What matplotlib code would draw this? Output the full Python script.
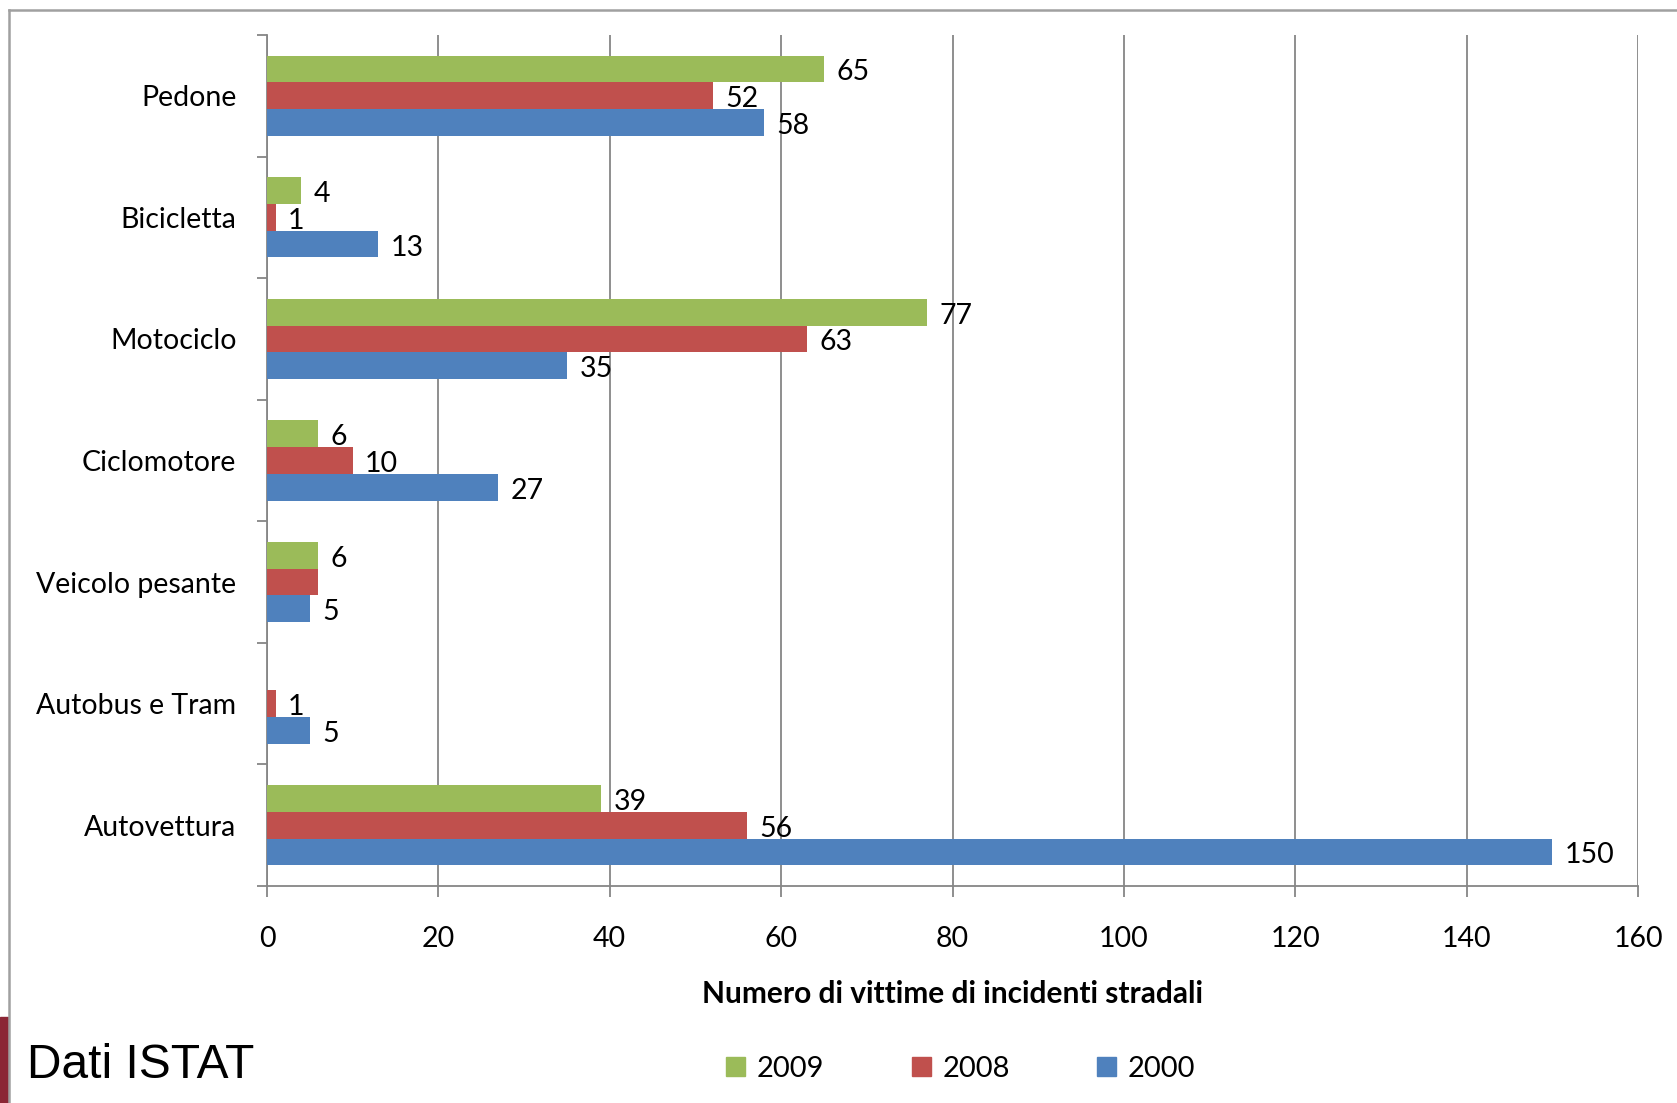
import numpy as np
import matplotlib
matplotlib.use("Agg")
import matplotlib.pyplot as plt
from matplotlib.lines import Line2D
from matplotlib.patches import Rectangle

categories = ["Autovettura", "Autobus e Tram", "Veicolo pesante", "Ciclomotore",
              "Motociclo", "Bicicletta", "Pedone"]
years = ["2009", "2008", "2000"]
v2009 = [39, np.nan, 6, 6, 77, 4, 65]
v2008 = [56, 1, 6, 10, 63, 1, 52]
v2000 = [150, 5, 5, 27, 35, 13, 58]
# the source chart hides the 2008 label of "Veicolo pesante" (overlap)
hidden_2008 = ["Veicolo pesante"]
x_ticks = [0, 20, 40, 60, 80, 100, 120, 140, 160]

colors = {"2009": "#9BBB59", "2008": "#C0504D", "2000": "#4F81BD"}
plt.rcParams["font.family"] = ["Lato", "DejaVu Sans"]

fig = plt.figure(figsize=(16.77, 11.03), dpi=100)
ax = fig.add_axes([0.1592, 0.1967, 0.8176, 0.7716])

y = np.arange(len(categories))
h = 0.22
series = [("2000", v2000, -h), ("2008", v2008, 0), ("2009", v2009, h)]
for name, vals, off in series:
    vals = np.array(vals, dtype=float)
    bars = ax.barh(y + off, np.nan_to_num(vals), height=h, color=colors[name],
                   edgecolor="none", zorder=3)
    labels = []
    for cat, v in zip(categories, vals):
        if np.isnan(v) or (name == "2008" and cat in hidden_2008):
            labels.append("")
        else:
            labels.append(f"{int(v)}")
    anns = ax.bar_label(bars, labels=labels, padding=9, fontsize=20.5, color="black")
    for a in anns:
        a.xyann = (9, -2.5)

ax.set_xlim(0, 160)
ax.set_ylim(-0.5, len(categories) - 0.5)
ax.set_xticks(x_ticks)
ax.set_xticklabels([str(t) for t in x_ticks], fontsize=20.5)
ax.set_yticks(y)
ax.set_yticklabels(categories, fontsize=20.5)
ax.set_yticks(np.arange(-0.5, len(categories)), minor=True)
ax.tick_params(axis="y", which="major", length=0, pad=22)
ax.tick_params(axis="y", which="minor", length=7, width=1.3, color="#868686", direction="out")
ax.tick_params(axis="x", length=8, width=1.3, color="#868686", pad=21)
ax.xaxis.grid(True, color="#868686", linewidth=1.3, zorder=0)
ax.set_axisbelow(True)
for s in ["top", "right"]:
    ax.spines[s].set_visible(False)
for s in ["left", "bottom"]:
    ax.spines[s].set_color("#868686")
    ax.spines[s].set_linewidth(1.3)
ax.set_xlabel("Numero di vittime di incidenti stradali", fontsize=21.5,
              fontweight="bold", labelpad=20)

handles = [Rectangle((0, 0), 1, 1, color=colors[n]) for n in years]
fig.legend(handles, years, loc="center", bbox_to_anchor=(0.573, 0.031), ncol=3,
           frameon=False, fontsize=21, handlelength=0.65, handleheight=0.65,
           handletextpad=0.4, columnspacing=3.0)

# slide frame and decorations
fig.add_artist(Line2D([0.0054, 1.0], [0.9909, 0.9909], color="#a0a0a0", linewidth=1.8,
                      transform=fig.transFigure))
fig.add_artist(Line2D([0.0054, 0.0054], [0.0, 0.9909], color="#a0a0a0", linewidth=1.8,
                      transform=fig.transFigure))
fig.add_artist(Rectangle((0, 0), 0.0048, 0.078, color="#8B2635",
                         transform=fig.transFigure))
fig.text(0.016, 0.0227, "Dati ISTAT", fontsize=34.5, family="Liberation Sans",
         va="baseline", ha="left")

fig.savefig("out.png", dpi=100)
